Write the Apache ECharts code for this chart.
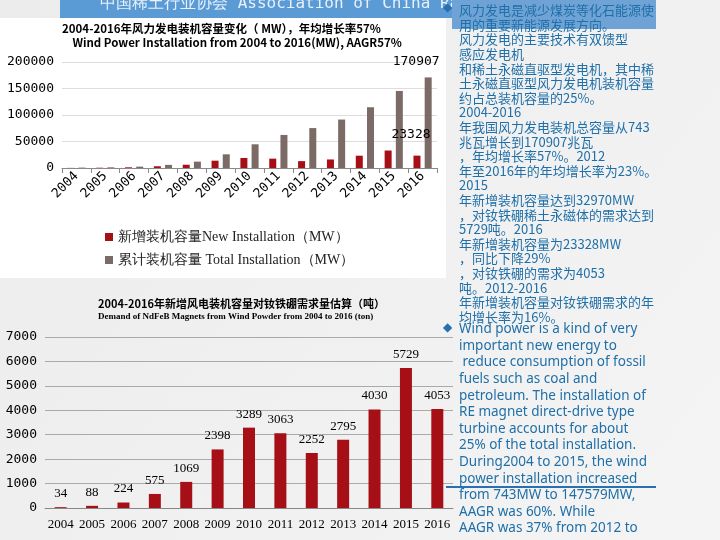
<!DOCTYPE html>
<html><head><meta charset="utf-8">
<script src="https://cdn.jsdelivr.net/npm/echarts@6/dist/echarts.min.js"></script>
<style>html,body{margin:0;padding:0;}#c{width:720px;height:540px;}</style>
</head><body><div id="c"></div>
<script>
const years = ['2004','2005','2006','2007','2008','2009','2010','2011','2012','2013','2014','2015','2016'];
const newInstall = [200,500,1300,3300,6150,13800,18930,17630,12960,16090,23200,32970,23328];
const totalInstall = [743,1260,2560,5870,12020,25810,44730,62360,75320,91410,114610,145360,170907];
const ndfebDemand = [34,88,224,575,1069,2398,3289,3063,2252,2795,4030,5729,4053];
const cnLines = ['风力发电是减少煤炭等化石能源使','用的重要新能源发展方向。','风力发电的主要技术有双馈型','感应发电机','和稀土永磁直驱型发电机，其中稀','土永磁直驱型风力发电机装机容量','约占总装机容量的25%。','2004-2016','年我国风力发电装机总容量从743','兆瓦增长到170907兆瓦','，年均增长率57%。2012','年至2016年的年均增长率为23%。','2015','年新增装机容量达到32970MW','，对钕铁硼稀土永磁体的需求达到','5729吨。2016','年新增装机容量为23328MW','，同比下降29%','，对钕铁硼的需求为4053','吨。2012-2016','年新增装机容量对钕铁硼需求的年','均增长率为16%。'];
const enLines = ['Wind power is a kind of very','important new energy to',' reduce consumption of fossil','fuels such as coal and','petroleum. The installation of','RE magnet direct-drive type','turbine accounts for about','25% of the total installation.','During2004 to 2015, the wind','power installation increased','from 743MW to 147579MW,','AAGR was 60%. While','AAGR was 37% from 2012 to'];

const chart = echarts.init(document.getElementById('c'));
const blue = '#1f6fa8';
const g = [
  {type:'rect',shape:{x:0,y:0,width:720,height:540},style:{fill:new echarts.graphic.LinearGradient(0,0,1,1,[{offset:0,color:'#ececec'},{offset:1,color:'#f4f4f4'}])},z:-10},
  {type:'rect',shape:{x:0,y:18,width:446,height:260},style:{fill:'#fff'},z:-5},
  {type:'rect',shape:{x:60,y:0,width:392,height:18},style:{fill:'#5b9bd5'},z:-4},
  {type:'text',left:100,top:-4,style:{text:'中国稀土行业协会 Association of China Rare Earth Industry',fill:'#e8f0fa',font:'16px "DejaVu Sans Mono"'},z:-3},
  {type:'rect',shape:{x:452,y:0,width:204,height:29},style:{fill:'#6fa3d6'},z:-2},
  {type:'text',left:62,top:22,style:{text:'2004-2016年风力发电装机容量变化（ MW），年均增长率57%\n    Wind Power Installation from 2004 to 2016(MW), AAGR57%',fill:'#000',font:'bold 11.5px "Noto Sans CJK SC"',lineHeight:14}},
  {type:'text',left:98,top:298,style:{text:'2004-2016年新增风电装机容量对钕铁硼需求量估算（吨）',fill:'#000',font:'bold 11px "Noto Sans CJK SC"'}},
  {type:'text',left:98,top:312,style:{text:'Demand of NdFeB Magnets from Wind Powder from 2004 to 2016 (ton)',fill:'#000',font:'bold 9px "Liberation Serif"'}},
  {type:'line',shape:{x1:446,y1:487,x2:656,y2:487},style:{stroke:'#2a6fb0',lineWidth:2}},
  {type:'text',left:443,top:2,style:{text:'◆',fill:'#2a6fb0',font:'12px sans-serif'}},
  {type:'text',left:443,top:322,style:{text:'◆',fill:'#2a6fb0',font:'12px sans-serif'}},
  {type:'text',left:459,top:3,style:{text:cnLines.join('\n'),fill:blue,font:'13px "Noto Sans CJK SC"',lineHeight:14.6}},
  {type:'text',left:459,top:321,style:{text:enLines.join('\n'),fill:blue,font:'13.5px "Noto Sans"',lineHeight:16.6}}
];
const ser = '"Liberation Serif"';
const plain = v => String(v);
chart.setOption({
  animation:false,
  graphic:g,
  legend:{orient:'vertical',left:100,top:225,itemWidth:8,itemHeight:8,itemGap:9,icon:'rect',textStyle:{fontFamily:ser,fontSize:14,color:'#222'},data:['新增装机容量New Installation（MW）','累计装机容量 Total Installation（MW）']},
  grid:[{left:62,top:62,width:375,height:106},{left:45,top:337,width:408,height:171}],
  xAxis:[
    {gridIndex:0,type:'category',data:years,axisLine:{lineStyle:{color:'#888'}},axisTick:{show:true},axisLabel:{rotate:45,interval:0,fontSize:13,color:'#000',fontFamily:'"DejaVu Sans Mono"',margin:6}},
    {gridIndex:1,type:'category',data:years,axisLine:{lineStyle:{color:'#888'}},axisTick:{show:false},axisLabel:{interval:0,fontSize:13,color:'#000',fontFamily:ser,margin:10}}
  ],
  yAxis:[
    {gridIndex:0,type:'value',min:0,max:200000,interval:50000,axisLabel:{formatter:plain,fontSize:13,color:'#000',fontFamily:'"DejaVu Sans Mono"',margin:8},splitLine:{lineStyle:{color:'#ddd'}}},
    {gridIndex:1,type:'value',min:0,max:7000,interval:1000,axisLabel:{formatter:plain,fontSize:13,color:'#000',fontFamily:'"DejaVu Sans Mono"',margin:8},splitLine:{lineStyle:{color:'#aaa'}}}
  ],
  series:[
    {name:'新增装机容量New Installation（MW）',type:'bar',xAxisIndex:0,yAxisIndex:0,data:newInstall,itemStyle:{color:'#a50f15'},barWidth:7,barGap:'60%',
      label:{show:true,position:'top',fontSize:13,color:'#000',fontFamily:'"DejaVu Sans Mono"',formatter:p=>p.dataIndex===12?p.value:'',offset:[-6,-10]}},
    {name:'累计装机容量 Total Installation（MW）',type:'bar',xAxisIndex:0,yAxisIndex:0,data:totalInstall,itemStyle:{color:'#7b6a65'},barWidth:7,
      label:{show:true,position:'top',fontSize:13,color:'#000',fontFamily:'"DejaVu Sans Mono"',formatter:p=>p.dataIndex===12?p.value:'',offset:[-12,-4]}},
    {type:'bar',xAxisIndex:1,yAxisIndex:1,data:ndfebDemand,itemStyle:{color:'#a50f15'},barWidth:12,
      label:{show:true,position:'top',fontSize:13,color:'#000',fontFamily:ser,offset:[0,-2]}}
  ]
});
</script></body></html>
